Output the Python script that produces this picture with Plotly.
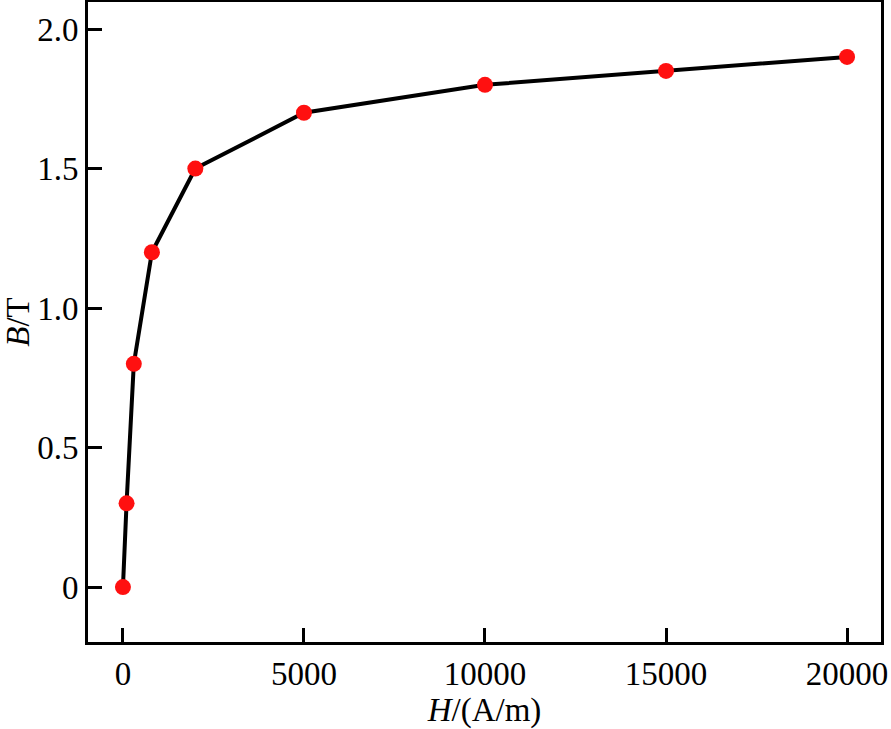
import plotly.graph_objects as go

# magnetisation curve data
h_values = [0, 100, 300, 800, 2000, 5000, 10000, 15000, 20000]
b_values = [0, 0.3, 0.8, 1.2, 1.5, 1.7, 1.8, 1.85, 1.9]

x_ticks = [0, 5000, 10000, 15000, 20000]
y_ticks = [0, 0.5, 1.0, 1.5, 2.0]
y_tick_text = ['0', '0.5', '1.0', '1.5', '2.0']

font = 'Liberation Serif, Times New Roman, serif'

fig = go.Figure()
fig.add_trace(go.Scatter(x=h_values, y=b_values, mode='lines+markers',
                         line=dict(color='black', width=4),
                         marker=dict(color='#ff1010', size=16),
                         showlegend=False))

axis_common = dict(showline=True, linecolor='black', linewidth=3, mirror=True,
                   ticks='inside', ticklen=14, tickwidth=3, tickcolor='black',
                   showgrid=False, zeroline=False,
                   tickfont=dict(family=font, size=33, color='black'))

fig.update_xaxes(range=[-965, 20938], tickvals=x_ticks, tickformat='d',
                 title=dict(text='<i>H</i>/(A/m)', standoff=2,
                            font=dict(family=font, size=33, color='black')),
                 **axis_common)
fig.update_yaxes(range=[-0.197, 2.097], tickvals=y_ticks, ticktext=y_tick_text,
                 title=dict(text='<i>B</i>/T', standoff=6,
                            font=dict(family=font, size=33, color='black')),
                 **axis_common)

fig.update_layout(width=891, height=729,
                  margin=dict(l=88, r=10, t=2, b=87, autoexpand=False),
                  plot_bgcolor='white', paper_bgcolor='white')

# drop the default page margin so the figure sits at the window corner
fig.write_html("out.html", config={'displayModeBar': False},
               post_script="document.body.style.margin='0';")
